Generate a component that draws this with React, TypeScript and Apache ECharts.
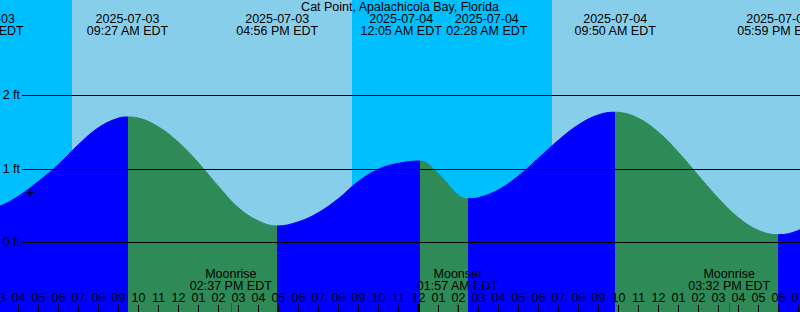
import React, { useEffect, useRef } from 'react';
import * as echarts from 'echarts';

// ---- data ----
const stationName = 'Cat Point, Apalachicola Bay, Florida';

// hours since 2025-07-03 00:00 EDT, and tide height in feet
const tideHours = [2.225, 3, 4, 5, 6, 7, 8, 9, 9.45, 10, 11, 12, 13, 14, 15, 16, 16.933, 18, 19, 20, 21, 22, 23, 24.083, 25, 26, 26.467, 27, 28, 29, 30, 31, 32, 33, 33.833, 34, 35, 36, 37, 38, 39, 40, 41, 41.983, 43, 44];
const tideFeet = [0.45, 0.485, 0.628, 0.83, 1.06, 1.33, 1.56, 1.69, 1.705, 1.69, 1.57, 1.36, 1.08, 0.76, 0.47, 0.29, 0.222, 0.28, 0.405, 0.595, 0.83, 0.995, 1.075, 1.106, 0.93, 0.64, 0.593, 0.608, 0.714, 0.904, 1.144, 1.39, 1.599, 1.734, 1.77, 1.768, 1.687, 1.496, 1.223, 0.907, 0.596, 0.333, 0.162, 0.103, 0.162, 0.321];

const extremeHours = [2.225, 9.45, 16.933, 24.083, 26.467, 33.833, 41.983];
const extremeKinds = ['low', 'high', 'low', 'high', 'low', 'high', 'low'];
const extremeDates = ['2025-07-03', '2025-07-03', '2025-07-03', '2025-07-04', '2025-07-04', '2025-07-04', '2025-07-04'];
const extremeTimes = ['02:13 AM EDT', '09:27 AM EDT', '04:56 PM EDT', '12:05 AM EDT', '02:28 AM EDT', '09:50 AM EDT', '05:59 PM EDT'];

const skyStarts = [2, 6.675, 20.675, 30.675];
const skyEnds = [6.675, 20.675, 30.675, 44];
const skyKinds = ['night', 'day', 'night', 'day'];

const moonHours = [14.617, 25.95, 39.533];
const moonEvents = ['Moonrise', 'Moonset', 'Moonrise'];
const moonTimes = ['02:37 PM EDT', '01:57 AM EDT', '03:32 PM EDT'];

const depthLevels = [0, 1, 2];
const hourTicks = [3, 4, 5, 6, 7, 8, 9, 10, 11, 12, 13, 14, 15, 16, 17, 18, 19, 20, 21, 22, 23, 24, 25, 26, 27, 28, 29, 30, 31, 32, 33, 34, 35, 36, 37, 38, 39, 40, 41, 42, 43];
const hourLabels = ['03', '04', '05', '06', '07', '08', '09', '10', '11', '12', '01', '02', '03', '04', '05', '06', '07', '08', '09', '10', '11', '12', '01', '02', '03', '04', '05', '06', '07', '08', '09', '10', '11', '12', '01', '02', '03', '04', '05', '06', '07'];
const midnightHours = [24];

const nowHour = [4.575];
const nowFeet = [0.675];

// layout (pixels): labels pushed apart where two extremes are close
const extremeLabelShift = [0, 0, 0, -19, 19, 0, 0];

const X_MIN = 3;
const X_MAX = 43.075;
const Y_MIN = -0.9483;
const Y_MAX = 3.2966;
const LINE_START = 4.175;

const FONT = 'Liberation Sans';
const FS = 12.5;
const COLORS = {
  night: '#00BFFF',
  day: '#87CEEB',
  rising: '#0000FF',
  falling: '#2E8B57',
};

export default function App() {
  const ref = useRef<HTMLDivElement>(null);

  useEffect(() => {
    if (!ref.current) return;
    const chart = echarts.init(ref.current, undefined, { renderer: 'svg' });

    // rising (blue) / falling (green) pieces between extremes
    const pieces: any[] = [];
    for (let i = 0; i < extremeHours.length; i++) {
      const from = extremeHours[i];
      const to = extremeHours[i + 1];
      const color = extremeKinds[i] === 'low' ? COLORS.rising : COLORS.falling;
      if (i === 0) {
        pieces.push({ lt: extremeHours[0], color: COLORS.rising });
      }
      if (to === undefined) {
        pieces.push({ gte: from, color });
      } else {
        pieces.push({ gte: from, lt: to, color });
      }
    }

    const skyData = skyStarts.map((s, i) => [
      { xAxis: s, itemStyle: { color: skyKinds[i] === 'night' ? COLORS.night : COLORS.day } },
      { xAxis: skyEnds[i] },
    ]);

    const depthLines = depthLevels.map((d) => [
      {
        xAxis: LINE_START,
        yAxis: d,
        lineStyle: { color: '#000', width: 1, type: 'solid' },
        label: {
          show: true,
          position: 'start',
          distance: 2,
          formatter: d + ' ft',
          color: '#000',
          fontSize: FS,
          fontFamily: FONT,
        },
      },
      { xAxis: X_MAX, yAxis: d },
    ]);

    const hourTickLines = hourTicks.map((h) => [
      { xAxis: h, y: 305, lineStyle: { color: '#000', width: 1, type: 'solid' }, label: { show: false } },
      { xAxis: h, y: 312 },
    ]);

    const midnightLines = midnightHours.map((h) => [
      { xAxis: h, y: 304, lineStyle: { color: '#000', width: 3, type: 'solid' }, label: { show: false } },
      { xAxis: h, y: 312 },
    ]);

    const moonLines = moonHours.map((h) => [
      { xAxis: h, y: 303, lineStyle: { color: '#FF0000', width: 1, type: 'solid' }, label: { show: false } },
      { xAxis: h, y: 312 },
    ]);

    const labelBase = {
      show: true,
      position: 'inside',
      color: '#000',
      fontSize: FS,
      lineHeight: 12,
      fontFamily: FONT,
      align: 'center',
    };

    const extremeLabels = extremeHours.map((h, i) => ({
      xAxis: h,
      y: 24.5,
      label: {
        ...labelBase,
        offset: [extremeLabelShift[i], 0],
        formatter: extremeDates[i] + '\n' + extremeTimes[i],
      },
    }));

    const moonLabels = moonHours.map((h, i) => ({
      xAxis: h,
      y: 279.5,
      label: { ...labelBase, formatter: moonEvents[i] + '\n' + moonTimes[i] },
    }));

    const hourTextLabels = hourTicks.map((h, i) => ({
      xAxis: h,
      y: 297.5,
      label: { ...labelBase, formatter: hourLabels[i] },
    }));

    chart.setOption({
      animation: false,
      textStyle: { fontFamily: FONT },
      title: {
        text: stationName,
        left: 'center',
        top: 0,
        padding: 0,
        textStyle: { fontSize: FS, fontWeight: 'normal', fontFamily: FONT, color: '#000', lineHeight: 13 },
      },
      grid: { left: -1.5, right: 0, top: 0, bottom: 0, containLabel: false, outerBoundsMode: 'none' },
      xAxis: {
        type: 'value',
        min: X_MIN,
        max: X_MAX,
        axisLine: { show: false },
        splitLine: { show: false },
        axisTick: { show: false },
        axisLabel: { show: false },
      },
      yAxis: {
        type: 'value',
        min: Y_MIN,
        max: Y_MAX,
        show: false,
        splitLine: { show: false },
      },
      visualMap: {
        type: 'piecewise',
        show: false,
        dimension: 0,
        seriesIndex: 0,
        pieces,
      },
      series: [
        {
          type: 'line',
          data: tideHours.map((h, i) => [h, tideFeet[i]]),
          smooth: 0.4,
          showSymbol: false,
          symbol: 'none',
          silent: true,
          lineStyle: { width: 1 },
          areaStyle: { opacity: 1, origin: 'start' },
          z: 2,
          markArea: {
            silent: true,
            label: { show: false },
            data: skyData,
          },
          markLine: {
            silent: true,
            symbol: ['none', 'none'],
            label: { show: false },
            data: [...depthLines, ...hourTickLines, ...midnightLines, ...moonLines],
          },
          markPoint: {
            silent: true,
            symbol: 'circle',
            symbolSize: 0,
            data: [...extremeLabels, ...moonLabels, ...hourTextLabels],
          },
        },
        {
          type: 'scatter',
          data: nowHour.map((h, i) => [h, nowFeet[i]]),
          symbol: 'path://M0,5L10,5M5,0L5,10',
          symbolSize: 9,
          silent: true,
          z: 4,
          itemStyle: { color: 'rgba(0,0,0,0)', borderColor: '#000', borderWidth: 1.3 },
        },
      ],
    });

    return () => chart.dispose();
  }, []);

  return (
    <div
      ref={ref}
      style={{ position: 'absolute', left: 0, top: 0, width: 800, height: 312 }}
    />
  );
}
